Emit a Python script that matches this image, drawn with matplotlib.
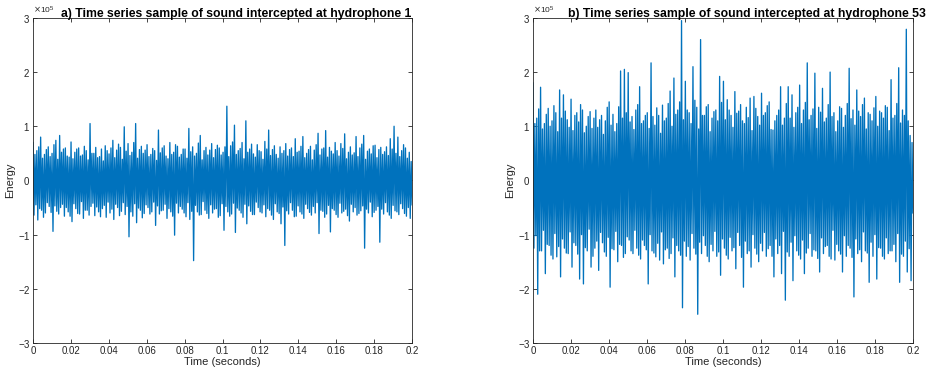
import numpy as np
import matplotlib
matplotlib.use("Agg")
import matplotlib.pyplot as plt
from matplotlib.ticker import ScalarFormatter

# values, in units of 1e5
# 200 time bins per trace: the high and the low excursion seen in each bin
h1_hi = [0.70, 0.48, 0.55, 0.62, 0.80, 0.41, 0.48, 0.57, 0.62, 0.44, 0.50, 0.66, 0.74, 0.39, 0.83, 0.52, 0.58, 0.60, 0.45, 0.43,
         0.71, 0.40, 0.52, 0.58, 0.60, 0.45, 0.47, 0.63, 0.55, 0.38, 1.05, 0.50, 0.50, 0.61, 0.42, 0.44, 0.58, 0.36, 0.64, 0.55,
         0.49, 0.60, 0.74, 0.42, 0.56, 0.67, 0.61, 0.39, 0.99, 0.54, 0.68, 0.46, 0.52, 0.70, 1.05, 0.41, 0.57, 0.63, 0.50, 0.56,
         0.66, 0.44, 0.48, 0.59, 0.55, 0.37, 0.93, 0.51, 0.60, 0.64, 0.45, 0.40, 0.70, 0.48, 0.52, 0.66, 0.63, 0.43, 0.48, 0.58,
         0.58, 0.41, 0.96, 0.53, 0.62, 0.45, 0.50, 0.69, 0.83, 0.38, 0.55, 0.61, 0.47, 0.56, 0.68, 0.42, 0.57, 0.65, 0.60, 0.47,
         0.52, 0.62, 1.37, 0.44, 0.64, 0.71, 1.02, 0.48, 0.55, 0.59, 0.70, 0.40, 1.10, 0.52, 0.58, 0.67, 0.49, 0.43, 0.66, 0.55,
         0.53, 0.39, 0.72, 0.58, 0.93, 0.46, 0.57, 0.64, 0.48, 0.41, 0.62, 0.50, 0.55, 0.68, 0.45, 0.57, 0.60, 0.44, 0.77, 0.52,
         0.54, 0.63, 0.81, 0.42, 0.50, 0.57, 0.63, 0.38, 0.56, 0.66, 0.87, 0.47, 0.58, 0.60, 0.92, 0.43, 0.61, 0.54, 0.49, 0.70,
         0.55, 0.45, 0.68, 0.59, 0.86, 0.40, 0.52, 0.62, 0.47, 0.51, 0.81, 0.44, 0.60, 0.67, 0.83, 0.39, 0.54, 0.58, 0.49, 0.64,
         0.65, 0.42, 0.57, 0.61, 0.48, 0.53, 0.62, 0.46, 0.77, 0.58, 1.00, 0.50, 0.80, 0.44, 0.55, 0.66, 0.60, 0.41, 0.52, 0.35]
h1_lo = [-0.64, -0.45, -0.73, -0.52, -0.55, -0.68, -0.60, -0.41, -0.48, -0.59, -0.94, -0.47, -0.57, -0.62, -0.50, -0.44, -0.66, -0.50, -0.58, -0.66,
         -0.76, -0.43, -0.52, -0.61, -0.62, -0.39, -0.70, -0.55, -0.55, -0.64, -0.48, -0.42, -0.65, -0.49, -0.58, -0.67, -0.52, -0.46, -0.68, -0.40,
         -0.60, -0.53, -0.72, -0.44, -0.50, -0.65, -0.57, -0.41, -0.63, -0.48, -1.04, -0.58, -0.66, -0.43, -0.78, -0.51, -0.55, -0.69, -0.61, -0.45,
         -0.50, -0.62, -0.58, -0.40, -0.83, -0.47, -0.62, -0.56, -0.55, -0.44, -0.70, -0.52, -0.58, -0.66, -1.01, -0.42, -0.60, -0.48, -0.53, -0.60,
         -0.67, -0.41, -0.72, -0.57, -1.48, -0.46, -0.58, -0.64, -0.63, -0.39, -0.55, -0.61, -0.70, -0.45, -0.60, -0.53, -0.52, -0.68, -0.65, -0.43,
         -0.92, -0.48, -0.58, -0.66, -0.62, -0.42, -0.96, -0.51, -0.55, -0.60, -0.68, -0.44, -0.80, -0.47, -0.57, -0.63, -0.63, -0.40, -0.50, -0.58,
         -0.60, -0.45, -0.67, -0.52, -0.55, -0.64, -0.72, -0.43, -0.58, -0.61, -0.80, -0.49, -1.20, -0.56, -0.62, -0.41, -0.55, -0.67, -0.66, -0.47,
         -0.58, -0.62, -0.70, -0.44, -0.52, -0.59, -0.64, -0.48, -0.60, -0.41, -0.98, -0.55, -0.57, -0.68, -0.62, -0.46, -0.95, -0.52, -0.55, -0.63,
         -0.68, -0.42, -0.60, -0.57, -0.53, -0.65, -0.75, -0.44, -0.58, -0.50, -0.64, -0.61, -0.56, -0.47, -1.25, -0.53, -0.60, -0.40, -0.67, -0.59,
         -0.55, -0.48, -1.14, -0.53, -0.62, -0.41, -0.58, -0.64, -0.70, -0.46, -0.56, -0.58, -0.63, -0.43, -0.52, -0.61, -0.66, -0.50, -0.70, -0.45]

h53_hi = [1.80, 1.05, 1.15, 1.32, 1.72, 0.95, 1.05, 1.22, 1.33, 1.00, 1.10, 1.38, 1.25, 0.90, 1.67, 1.15, 1.58, 1.28, 1.12, 0.98,
          1.50, 0.92, 1.20, 1.25, 1.08, 1.40, 1.30, 0.88, 1.00, 1.18, 1.27, 0.96, 1.15, 1.30, 0.98, 1.12, 1.20, 0.85, 1.10, 1.35,
          1.45, 1.02, 1.22, 0.90, 1.05, 1.36, 2.02, 1.15, 2.05, 1.25, 1.99, 1.08, 1.18, 0.94, 1.30, 1.40, 1.73, 1.05, 1.10, 1.20,
          1.25, 0.96, 2.17, 1.18, 1.02, 1.34, 1.20, 0.87, 1.39, 1.10, 1.15, 1.42, 1.65, 1.00, 1.89, 1.22, 1.30, 1.45, 2.95, 1.12,
          1.83, 1.30, 1.25, 1.05, 2.10, 1.48, 1.35, 0.95, 2.60, 1.20, 1.20, 1.36, 1.40, 0.90, 1.15, 1.27, 1.30, 1.10, 1.92, 1.44,
          1.83, 1.12, 1.49, 1.30, 1.20, 0.98, 1.64, 1.24, 1.28, 1.40, 1.10, 1.05, 1.35, 1.16, 1.52, 0.92, 1.55, 1.33, 1.18, 1.02,
          1.61, 1.20, 1.25, 1.38, 1.45, 0.94, 0.93, 1.10, 1.20, 1.30, 1.73, 1.02, 1.15, 1.42, 1.73, 1.15, 1.58, 0.98, 1.25, 1.35,
          1.76, 1.05, 1.30, 1.44, 2.17, 1.12, 1.20, 1.32, 1.98, 0.96, 1.35, 1.26, 1.70, 1.08, 1.15, 1.40, 2.00, 1.18, 1.25, 0.90,
          1.10, 1.36, 1.33, 0.98, 1.20, 1.42, 2.07, 1.14, 1.30, 1.02, 1.67, 1.28, 1.18, 1.40, 1.52, 0.95, 1.25, 1.22, 1.10, 1.34,
          1.55, 1.00, 1.28, 1.25, 1.15, 1.38, 1.35, 0.92, 1.86, 1.15, 1.20, 1.42, 2.08, 1.06, 1.30, 1.20, 2.79, 1.10, 0.83, 0.70]
h53_lo = [-1.25, -1.02, -2.10, -1.30, -1.30, -0.92, -1.72, -1.18, -1.20, -1.38, -1.45, -0.98, -1.41, -1.22, -1.78, -1.08, -1.25, -1.34, -1.35, -0.95,
          -1.60, -1.15, -1.20, -1.36, -1.82, -1.00, -1.91, -1.24, -1.30, -0.90, -1.60, -1.40, -1.25, -1.12, -1.66, -0.96, -1.15, -1.32, -1.40, -1.05,
          -1.97, -1.26, -1.28, -0.94, -1.50, -1.18, -1.20, -1.42, -1.35, -1.04, -1.10, -1.30, -1.35, -0.92, -1.25, -1.38, -1.45, -1.10, -1.20, -1.28,
          -1.91, -1.00, -1.30, -1.34, -1.41, -1.16, -1.47, -0.95, -1.54, -1.28, -1.25, -1.44, -1.35, -1.06, -1.78, -1.20, -1.30, -1.38, -2.35, -1.12,
          -1.40, -1.22, -1.47, -0.98, -1.25, -1.36, -2.47, -1.14, -1.35, -1.02, -1.20, -1.40, -1.50, -1.18, -1.30, -0.94, -1.40, -1.32, -1.75, -1.08,
          -1.25, -1.38, -1.45, -1.05, -1.30, -1.24, -1.63, -0.96, -1.20, -1.42, -1.97, -1.12, -1.35, -1.30, -1.60, -1.00, -1.25, -1.36, -1.50, -1.16,
          -1.30, -0.96, -1.40, -1.26, -1.20, -1.40, -1.78, -1.08, -1.35, -1.20, -1.72, -0.94, -2.21, -1.32, -1.40, -1.14, -1.85, -1.02, -1.30, -1.38,
          -1.45, -1.10, -1.72, -1.34, -1.25, -0.98, -1.40, -1.28, -1.30, -1.44, -1.69, -1.06, -1.35, -1.22, -1.20, -1.40, -1.45, -0.92, -1.47, -1.18,
          -1.30, -1.36, -1.69, -1.02, -1.40, -1.20, -1.25, -1.42, -2.15, -1.08, -1.35, -1.28, -1.50, -0.95, -1.30, -1.34, -1.88, -1.14, -1.40, -1.00,
          -1.82, -1.24, -1.25, -1.40, -1.45, -1.06, -1.35, -1.30, -1.30, -1.18, -1.50, -0.98, -1.88, -1.36, -1.40, -1.12, -1.69, -1.26, -1.85, -0.60]

titles = ["a) Time series sample of sound intercepted at hydrophone 1",
          "b) Time series sample of sound intercepted at hydrophone 53"]
xticks = [0, 0.02, 0.04, 0.06, 0.08, 0.1, 0.12, 0.14, 0.16, 0.18, 0.2]
xticklabels = ['0', '0.02', '0.04', '0.06', '0.08', '0.1', '0.12', '0.14', '0.16', '0.18', '0.2']
yticks = [-3, -2, -1, 0, 1, 2, 3]

plt.rcParams['font.family'] = ['Liberation Sans', 'DejaVu Sans']
plt.rcParams['axes.unicode_minus'] = False

fig = plt.figure(figsize=(9.36, 3.69), dpi=100)
ax1 = fig.add_axes([0.0353, 0.0705, 0.405, 0.881])
ax2 = fig.add_axes([0.5694, 0.0705, 0.406, 0.881])

gray = '#262626'
series = [(ax1, h1_hi, h1_lo, titles[0], 0.537),
          (ax2, h53_hi, h53_lo, titles[1], 0.562)]
for ax, hi, lo, title, tx in series:
    y = np.empty(2 * len(hi))
    y[0::2] = hi
    y[1::2] = lo
    t = np.linspace(0, 0.2, len(y))
    ax.plot(t, y * 1e5, color='#0072BD', lw=0.95)
    ax.set_xlim(0, 0.2)
    ax.set_ylim(-3e5, 3e5)
    ax.set_xticks(xticks)
    ax.set_xticklabels(xticklabels)
    ax.set_yticks([v * 1e5 for v in yticks])
    fmt = ScalarFormatter(useMathText=True)
    fmt.set_powerlimits((0, 0))
    ax.yaxis.set_major_formatter(fmt)
    ax.yaxis.get_offset_text().set_fontsize(6)
    ax.yaxis.get_offset_text().set_color('#777777')
    ax.tick_params(direction='in', top=True, right=True, length=3, width=0.6,
                   labelsize=7, colors=gray, pad=2)
    for s in ax.spines.values():
        s.set_color(gray)
        s.set_linewidth(0.6)
    ax.set_xlabel('Time (seconds)', fontsize=8, color=gray, labelpad=1)
    ax.set_ylabel('Energy', fontsize=8, color=gray, labelpad=2)
    ax.set_title(title, fontsize=8.8, fontweight='bold', x=tx, y=1.0, pad=1)

fig.savefig('out.png', dpi=100)
